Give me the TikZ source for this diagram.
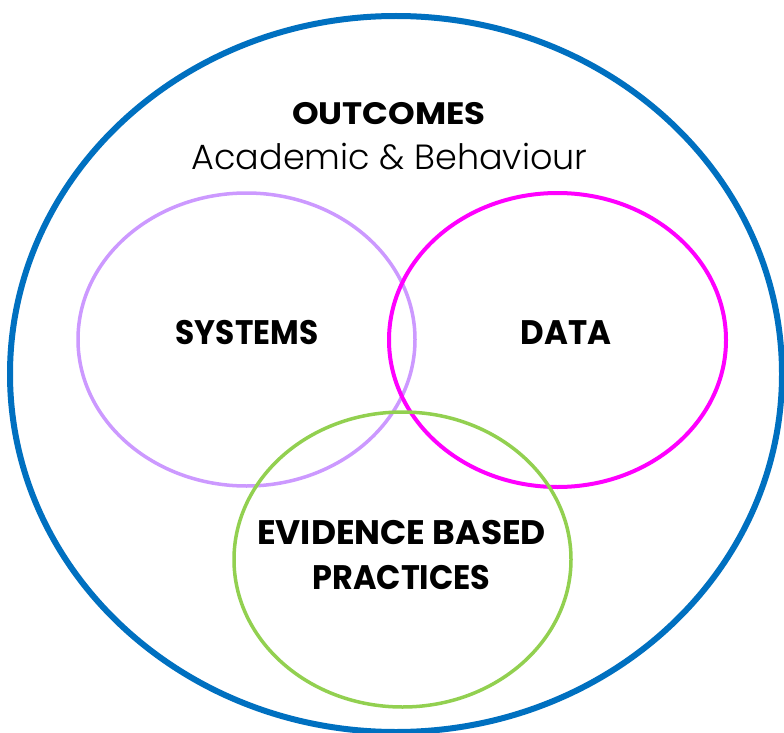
\documentclass[tikz,border=0pt]{standalone}
\usepackage{fontspec}
\setmainfont{Poppins}
\newfontfamily\poplight{Poppins}[UprightFont=* Light]
\usetikzlibrary{shapes.geometric}
\definecolor{outerblue}{HTML}{0070C0}
\definecolor{lav}{HTML}{CC99FF}
\definecolor{mag}{HTML}{FF00FF}
\definecolor{grn}{HTML}{92D050}
\tikzset{
  ring/.style={ellipse, draw, inner sep=0pt, outer sep=0pt},
  label/.style={inner sep=0pt, text=black, align=center},
  boldlbl/.style={label, font=\fontsize{34}{45}\selectfont\bfseries},
}
\begin{document}
\begin{tikzpicture}[x=1pt,y=-1pt]
\useasboundingbox (0,0) rectangle (784,733);
\fill[white] (0,0) rectangle (784,733);
\node[ring, draw=outerblue, line width=6pt, minimum width=772pt, minimum height=716pt] (outer) at (396,374) {};
\node[ring, draw=lav, line width=3.5pt, minimum width=337pt, minimum height=293pt] (sys) at (246.5,339.5) {};
\node[ring, draw=mag, line width=4pt, minimum width=337pt, minimum height=294pt] (data) at (557.5,340) {};
\node[ring, draw=grn, line width=3.5pt, minimum width=337pt, minimum height=295pt] (ebp) at (402.5,559.5) {};
\node[label, font=\fontsize{31}{35}\selectfont\bfseries] (outc) at (389,114) {\scalebox{1.095}[1]{OUTCOMES}};
\node[label, font=\fontsize{35}{40}\selectfont\poplight, anchor=base] (acad) at (389.5,169) {Academic \& Behaviour};
\node[boldlbl] (systxt) at (247,332.5) {\scalebox{0.918}[1]{SYSTEMS}};
\node[boldlbl] (datatxt) at (566,332.5) {\scalebox{0.955}[1]{DATA}};
\node[boldlbl] (ebptxt) at (401.5,555) {\scalebox{1.014}[1]{EVIDENCE BASED}\\\scalebox{0.938}[1]{PRACTICES}};
\end{tikzpicture}
\end{document}
